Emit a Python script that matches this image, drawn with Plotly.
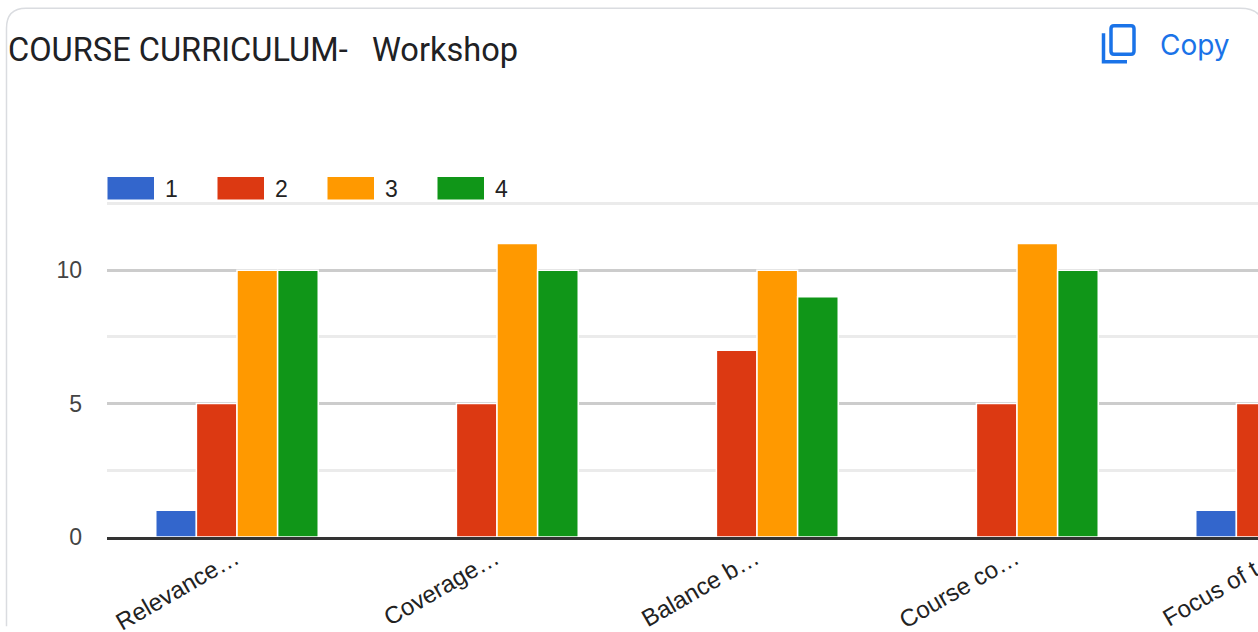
import plotly.graph_objects as go

categories = ["Relevance…", "Coverage…", "Balance b…", "Course co…", "Focus of t…"]
series_names = ["1", "2", "3", "4"]
series_1 = [1, 0, 0, 0, 1]
series_2 = [5, 5, 7, 5, 5]
series_3 = [10, 11, 10, 11, None]
series_4 = [10, 10, 9, 10, None]
colors = ["#3366cc", "#dc3912", "#ff9900", "#109618"]
title_text = "COURSE CURRICULUM-\u00a0\u00a0\u00a0Workshop"

W, H = 1500, 632
L, R, T, B = 107, 1407, 195, 537.5
UNIT = (537.5 - 203.5) / 12.5


def px(x):
    return (x - L) / (R - L)


def py(y):
    return (B - y) / (B - T)


def path(points):
    out = []
    for cmd, *xy in points:
        out.append(cmd + " ".join(f"{(px(v) if i % 2 == 0 else py(v)):.5f}" for i, v in enumerate(xy)))
    return " ".join(out)


fig = go.Figure()
for name, vals, color in zip(series_names, [series_1, series_2, series_3, series_4], colors):
    fig.add_bar(x=categories, y=vals, name=name, marker=dict(color=color, line=dict(width=1.5, color="white")))

shapes = [
    dict(type="path", xref="paper", yref="paper", layer="below",
         line=dict(color="#dadce0", width=1.5),
         path=path([("M", 6.5, 627), ("L", 6.5, 28), ("Q", 6.5, 8, 26, 8), ("L", 1240, 8), ("Q", 1258, 8, 1262, 20)])),
    dict(type="path", xref="paper", yref="paper", line=dict(color="#1a73e8", width=3.5),
         path=path([("M", 1114, 25.5), ("L", 1131, 25.5), ("Q", 1134, 25.5, 1134, 28.5), ("L", 1134, 51),
                    ("Q", 1134, 54, 1131, 54), ("L", 1114, 54), ("Q", 1111, 54, 1111, 51), ("L", 1111, 28.5),
                    ("Q", 1111, 25.5, 1114, 25.5), ("Z",)])),
    dict(type="path", xref="paper", yref="paper", line=dict(color="#1a73e8", width=3.5),
         path=path([("M", 1103.5, 33), ("L", 1103.5, 61.5), ("L", 1127, 61.5)])),
]
annotations = [
    dict(text="Copy", xref="paper", yref="paper", x=px(1158), y=py(45), xanchor="left", yanchor="middle",
         showarrow=False, font=dict(family="Inter", size=28, color="#1a73e8")),
]
legend_x = [107.5, 217.5, 327.5, 437.5]
for name, color, x0 in zip(series_names, colors, legend_x):
    shapes.append(dict(type="rect", xref="paper", yref="paper", x0=px(x0), x1=px(x0 + 46.5), y0=py(199.5), y1=py(177),
                       fillcolor=color, line=dict(width=0)))
    annotations.append(dict(text=name, xref="paper", yref="paper", x=px(x0 + 55), y=py(189), xanchor="left",
                            yanchor="middle", showarrow=False,
                            font=dict(family="Liberation Sans", size=23, color="#222222")))

fig.update_layout(
    width=W, height=H, barmode="group", bargap=0.375, bargroupgap=0, showlegend=False,
    paper_bgcolor="white", plot_bgcolor="white",
    margin=dict(l=L, r=W - R, t=T, b=H - B, autoexpand=False),
    title=dict(text=title_text, xref="container", yref="container", x=8 / W, y=1 - 50 / H,
               xanchor="left", yanchor="middle", pad=dict(l=0, r=0, t=0, b=0),
               font=dict(family="Roboto", size=32.6, color="#202124")),
    xaxis=dict(type="category", range=[-0.5, 4.5], showline=True, linecolor="#333333", linewidth=3, ticks="",
               showgrid=False, zeroline=False, tickangle=-30, ticklabelshift=-2, ticklabelstandoff=-5,
               tickfont=dict(family="Liberation Sans", size=24, color="#222222")),
    yaxis=dict(range=[0, (B - T) / UNIT], tickvals=[0, 5, 10], ticktext=["0", "5", "10"], ticks="", showline=False,
               zeroline=False, showgrid=True, gridcolor="#cccccc", gridwidth=3, ticklabelstandoff=24,
               minor=dict(tickvals=[2.5, 7.5, 12.5], showgrid=True, gridcolor="#ebebeb", gridwidth=3, ticks=""),
               tickfont=dict(family="Liberation Sans", size=23, color="#444444")),
    shapes=shapes, annotations=annotations,
)

fig.write_html(
    "out.html",
    config=dict(displayModeBar=False),
    post_script="document.body.style.margin='0';document.body.style.overflow='hidden';"
                "document.documentElement.style.overflow='hidden';",
)
